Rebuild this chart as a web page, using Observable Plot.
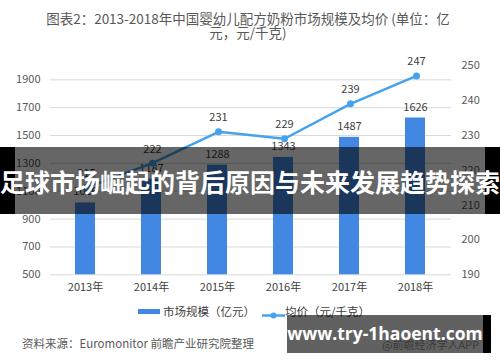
<!DOCTYPE html>
<html><head><meta charset="utf-8">
<script src="https://cdn.jsdelivr.net/npm/d3@7"></script>
<script src="https://cdn.jsdelivr.net/npm/@observablehq/plot@0.6"></script>
<style>
body{margin:0;background:#fff;}
#wrap{position:relative;width:500px;height:362px;overflow:hidden;font-family:"Noto Sans CJK SC","Noto Sans",sans-serif;color:#595959;}
#wrap svg{position:absolute;left:0;top:0;}
.title{position:absolute;left:0;width:496px;text-align:center;font-size:13.5px;line-height:14px;color:#595959;}
.leg{position:absolute;top:303px;font-size:11.5px;color:#404040;}
.cap{position:absolute;left:22px;top:335px;font-size:11.5px;color:#595959;}
.banner{position:absolute;left:0;top:147px;width:500px;height:67px;background:rgba(0,0,0,0.6);}
.bedge{position:absolute;top:147px;height:67px;background:#000;}
.btext{position:absolute;left:-10px;width:520px;top:163px;text-align:center;color:#fff;font-weight:bold;font-size:25px;line-height:36px;letter-spacing:0px;white-space:nowrap;}
.box{position:absolute;left:287px;top:315px;width:196px;height:38px;background:rgba(0,0,0,0.62);}
.boxedge{position:absolute;left:483px;top:315px;width:8px;height:38px;background:#000;}
.boxsub{position:absolute;left:382px;top:336px;font-size:11px;color:#3a3a3a;white-space:nowrap;}
.boxtext{position:absolute;left:287px;width:196px;top:320px;text-align:center;color:#fff;font-weight:bold;font-size:17.5px;line-height:26px;font-family:"Open Sans","Noto Sans",sans-serif;white-space:nowrap;}
</style></head>
<body>
<div id="wrap">
</div>
<script>
const years = ["2013年","2014年","2015年","2016年","2017年","2018年"];
const marketSize = [1016, 1187, 1288, 1343, 1487, 1626];
const avgPrice = [215, 222, 231, 229, 239, 247];
const leftTicks = [500, 700, 900, 1100, 1300, 1500, 1700, 1900];
const rightTicks = [190, 200, 210, 220, 230, 240, 250];
const titleLines = ["图表2：2013-2018年中国婴幼儿配方奶粉市场规模及均价 (单位：亿", "元，元/千克)"];
const legendLabels = ["市场规模（亿元）", "均价（元/千克）"];
const caption = "资料来源：Euromonitor 前瞻产业研究院整理";
const bannerText = "足球市场崛起的背后原因与未来发展趋势探索";
const siteText = "www.try-1haoent.com";
const siteSub = "@前瞻经济学人APP";

const barColor = "#4287E2";
const lineColor = "#45A3EE";
const font = '"Noto Sans CJK SC","Noto Sans",sans-serif';

const bars = years.map((y,i)=>({year:y, v:marketSize[i]}));
const pts = years.map((y,i)=>({year:y, v:avgPrice[i]}));

const common = {
  width: 500, height: 300,
  marginTop: 65, marginBottom: 25.7, marginLeft: 50, marginRight: 49,
  style: {fontFamily: font, fontSize: "11px", color: "#595959", background: "transparent"}
};

const p1 = Plot.plot({
  ...common,
  x: {domain: years, paddingInner: 0.69, paddingOuter: 0.345, label: null},
  y: {domain: [500, 2003], label: null},
  marks: [
    Plot.gridY(leftTicks, {stroke: "#d9d9d9", strokeOpacity: 1, strokeWidth: 1}),
    Plot.barY(bars, {x: "year", y1: 500, y2: "v", fill: barColor}),
    Plot.text(bars, {x: "year", y: "v", text: d => String(d.v), dy: -11, fill: "#404040", fontSize: 11}),
    Plot.axisY(leftTicks, {anchor: "left", tickSize: 0, tickPadding: 10, tickFormat: d => String(d), fill: "#595959", fontSize: 11, label: null}),
    Plot.axisX({anchor: "bottom", tickSize: 0, tickPadding: 8, label: null, fill: "#404040", fontSize: 11})
  ]
});

const p2 = Plot.plot({
  ...common,
  x: {domain: years, paddingInner: 0.69, paddingOuter: 0.345, label: null, axis: null},
  y: {domain: [190, 250], label: null},
  marks: [
    Plot.lineY(pts, {x: "year", y: "v", stroke: lineColor, strokeWidth: 2.5}),
    Plot.dot(pts, {x: "year", y: "v", fill: lineColor, r: 3.5}),
    Plot.text(pts, {x: "year", y: "v", text: d => String(d.v), dy: -14, fill: "#404040", fontSize: 11}),
    Plot.axisY(rightTicks, {anchor: "right", tickSize: 0, tickPadding: 10, tickFormat: d => String(d), fill: "#595959", fontSize: 11, label: null})
  ]
});

const wrap = document.getElementById("wrap");
wrap.appendChild(p1);
wrap.appendChild(p2);

function add(cls, html, style){
  const d = document.createElement("div");
  d.className = cls;
  if (html != null) d.innerHTML = html;
  if (style) Object.assign(d.style, style);
  wrap.appendChild(d);
  return d;
}
add("title", titleLines[0], {top: "11px"});
add("title", titleLines[1], {top: "25px"});

// legend
const leg1 = add("leg", "", {left: "138px"});
leg1.innerHTML = `<span style="display:inline-block;width:22px;height:5px;background:${barColor};vertical-align:middle;margin-right:3px;position:relative;top:-1px"></span>${legendLabels[0]}`;
const leg2 = add("leg", "", {left: "262px"});
leg2.innerHTML = `<span style="display:inline-block;width:23px;height:9px;vertical-align:middle;position:relative;top:-1px"><svg width="23" height="9" style="position:static"><line x1="0" x2="23" y1="4.5" y2="4.5" stroke="${lineColor}" stroke-width="2.5"/><circle cx="11.5" cy="4.5" r="3" fill="${lineColor}"/></svg></span>${legendLabels[1]}`;

add("cap", caption);

// overlays
add("banner", null);
add("bedge", null, {left: "0px", width: "15px"});
add("bedge", null, {left: "485px", width: "15px"});
add("btext", bannerText);
add("box", null);
add("boxedge", null);
add("boxsub", siteSub);
add("boxtext", siteText);
</script>
</body></html>
